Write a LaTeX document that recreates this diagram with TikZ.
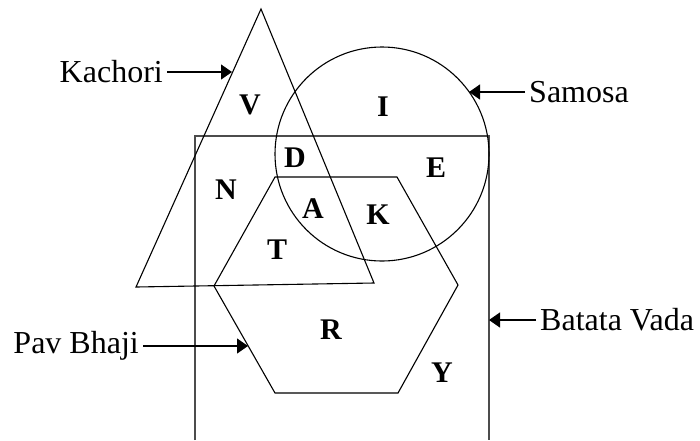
\documentclass[tikz,border=0pt]{standalone}
\usepackage{fontspec}
\setmainfont{Liberation Serif}
\usetikzlibrary{arrows.meta}

\begin{document}
\begin{tikzpicture}[
  x=1pt, y=-1pt,
  outl/.style={draw, line width=1.1pt},
  frame/.style={draw, line width=1.2pt, black!70},
  lbl/.style={font=\fontsize{32}{36}\selectfont, inner ysep=0pt, inner xsep=4pt},
  rgn/.style={font=\fontsize{30}{34}\selectfont\bfseries, inner sep=0pt},
  arr/.style={-{Triangle[length=11pt, width=15pt]}, line width=1.1pt}
]
\useasboundingbox (0,0) rectangle (700,440);
% the four sets
\draw[frame] (195,440) -- (195,136) -- (489,136) -- (489,440);
\draw[outl] (261,9) -- (136,287) -- (374,283) -- cycle;
\draw[outl] (382,154) circle[radius=107pt];
\draw[outl] (275,177) -- (397,177) -- (458,285) -- (398,393) -- (275,393)
  -- (214,286) -- cycle;
% arrow targets on the outlines
\coordinate (kt) at (232,72);
\coordinate (st) at (469,92);
\coordinate (pt) at (248,346);
\coordinate (bt) at (489,320);
% set names
\node[lbl, anchor=east] (kachori) at (167,72) {Kachori};
\node[lbl, anchor=west] (samosa) at (525,92) {Samosa};
\node[lbl, anchor=east] (pavbhaji) at (143,346) {Pav Bhaji};
\node[lbl, anchor=west] (batata) at (536,320) {Batata Vada};
\draw[arr] (kachori.east) -- (kt);
\draw[arr] (samosa.west) -- (st);
\draw[arr] (pavbhaji.east) -- (pt);
\draw[arr] (batata.west) -- (bt);
% regions
\node[rgn] (v) at (250,105) {V};
\node[rgn] (i) at (383,107) {I};
\node[rgn] (d) at (295,158) {D};
\node[rgn] (e) at (436,168) {E};
\node[rgn] (n) at (226,190) {N};
\node[rgn] (a) at (313,209) {A};
\node[rgn] (k) at (378,215) {K};
\node[rgn] (t) at (277,250) {T};
\node[rgn] (r) at (331,330) {R};
\node[rgn] (y) at (442,373) {Y};
\end{tikzpicture}
\end{document}
